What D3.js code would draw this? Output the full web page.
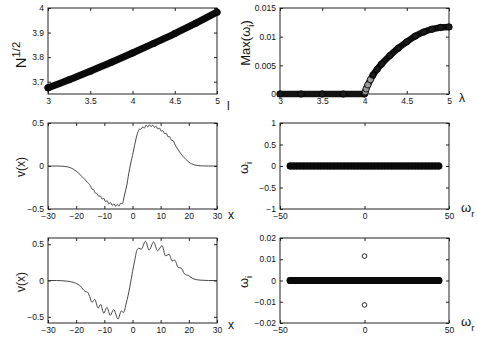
<!DOCTYPE html>
<html><head><meta charset="utf-8">
<script src="https://cdn.jsdelivr.net/npm/d3@7"></script>
<style>body{margin:0;background:#fff}svg{display:block}text{font-family:"Liberation Sans",Arial,Helvetica,sans-serif;fill:#111}</style>
</head><body><svg id="c" width="477" height="344"></svg>
<script>
// ---- data ----
const lambdaN = [3, 3.25, 3.5, 3.75, 4, 4.25, 4.5, 4.75, 5];
const sqrtN = [3.675, 3.708, 3.743, 3.779, 3.817, 3.856, 3.896, 3.938, 3.983];

const lambdaW = [3, 3.25, 3.5, 3.75, 4, 4.01, 4.02, 4.04, 4.07, 4.1, 4.15, 4.2, 4.3, 4.4, 4.5, 4.6, 4.7, 4.8, 4.9, 5];
const maxWi = [0, 0, 0, 0, 0, 0.0004, 0.0009, 0.0016, 0.0025, 0.0033, 0.0043, 0.0052, 0.0067, 0.0080, 0.0091, 0.0101, 0.0108, 0.0113, 0.0116, 0.0117];

const x1 = [-30,-27,-25,-24,-22,-20,-18,-16,-15,-14.4,-13.8,-13.2,-12.6,-12,-11.4,-10.8,-10.2,-9.6,-9,-8.4,-7.8,-7.2,-6.6,-6,-5.4,-4.8,-4.2,-3.6,-3,-2.5,-2,-1.5,-1,-0.5,0,0.5,1,1.5,2,2.5,3,3.6,4.2,4.8,5.4,6,6.6,7.2,7.8,8.4,9,9.6,10.2,10.8,11.4,12,12.6,13.2,13.8,14.4,15,16,17,18,19,20,21,22,23,25,27,30];
const v1 = [0,0,-0.002,-0.005,-0.02,-0.06,-0.12,-0.19,-0.228,-0.268,-0.275,-0.315,-0.32,-0.352,-0.348,-0.385,-0.375,-0.415,-0.403,-0.44,-0.425,-0.457,-0.44,-0.468,-0.445,-0.468,-0.432,-0.44,-0.36,-0.29,-0.22,-0.12,-0.03,0.05,0.12,0.2,0.28,0.35,0.4,0.43,0.425,0.455,0.44,0.475,0.455,0.48,0.458,0.475,0.45,0.462,0.43,0.44,0.405,0.41,0.375,0.38,0.34,0.34,0.3,0.295,0.255,0.2,0.15,0.11,0.075,0.045,0.025,0.013,0.006,0.001,0,0];

const x2 = [-30,-27,-25,-23,-21,-19.5,-18.5,-17.6,-16.8,-16,-15.2,-14.4,-13.4,-12.2,-11.3,-10.2,-9.1,-7.9,-6.7,-5.1,-4,-3.2,-2.2,-1,0,0.8,1.6,2.3,3.1,4.6,5.9,7.5,8.9,10.5,11.7,13,14.1,15,16.2,17.3,18.5,20,21.5,24,27,30];
const v2 = [0,0,-0.003,-0.01,-0.025,-0.05,-0.075,-0.12,-0.15,-0.16,-0.22,-0.30,-0.26,-0.38,-0.33,-0.45,-0.37,-0.48,-0.40,-0.53,-0.42,-0.44,-0.31,-0.1,0.12,0.28,0.42,0.445,0.43,0.54,0.42,0.53,0.41,0.48,0.34,0.36,0.27,0.28,0.18,0.17,0.09,0.065,0.025,0.005,0,0];

const omegaR = [-44,-42,-40,-38,-36,-34,-32,-30,-28,-26,-24,-22,-20,-18,-16,-14,-12,-10,-8,-6,-4,-2,0,2,4,6,8,10,12,14,16,18,20,22,24,26,28,30,32,34,36,38,40,42,44];
const unstableR = [0, 0];
const unstableI = [0.0115, -0.0115];

const lamTicks = [3, 3.5, 4, 4.5, 5];
const lamTickLabels = ["3", "3.5", "4", "4.5", "5"];
const nTicks = [3.7, 3.8, 3.9, 4];
const nTickLabels = ["3.7", "3.8", "3.9", "4"];
const wTicks = [0, 0.005, 0.01, 0.015];
const wTickLabels = ["0", "0.005", "0.01", "0.015"];
const xTicks = [-30, -20, -10, 0, 10, 20, 30];
const xTickLabels = ["\u221230", "\u221220", "\u221210", "0", "10", "20", "30"];
const vTicks = [-0.5, 0, 0.5];
const vTickLabels = ["\u22120.5", "0", "0.5"];
const wrTicks = [-50, 0, 50];
const wrTickLabels = ["\u221250", "0", "50"];
const wi1Ticks = [-1, -0.5, 0, 0.5, 1];
const wi1TickLabels = ["\u22121", "\u22120.5", "0", "0.5", "1"];
const wi2Ticks = [-0.02, -0.01, 0, 0.01, 0.02];
const wi2TickLabels = ["\u22120.02", "\u22120.01", "0", "0.01", "0.02"];

// ---- drawing ----
const svg = d3.select("#c");
const TF = 8.5;

function panel(c) {
  const x = d3.scaleLinear().domain(c.xd).range([c.l, c.r]);
  const y = d3.scaleLinear().domain(c.yd).range([c.b, c.t]);
  const g = svg.append("g");
  const lab = (vals, labs) => d => labs[vals.indexOf(d)];
  const ax = (sel) => { sel.select(".domain").remove(); sel.selectAll("line").attr("stroke", "#222"); sel.selectAll("text").attr("font-size", TF).attr("font-family", "Liberation Sans, Arial, sans-serif").attr("fill", "#111"); };
  g.append("g").attr("transform", `translate(0,${c.b})`)
    .call(d3.axisBottom(x).tickValues(c.xt).tickFormat(lab(c.xt, c.xl)).tickSizeInner(-3).tickSizeOuter(0).tickPadding(4)).call(ax);
  g.append("g").attr("transform", `translate(0,${c.t})`)
    .call(d3.axisTop(x).tickValues(c.xt).tickFormat("").tickSizeInner(-3).tickSizeOuter(0)).call(ax);
  g.append("g").attr("transform", `translate(${c.l},0)`)
    .call(d3.axisLeft(y).tickValues(c.yt).tickFormat(lab(c.yt, c.yl)).tickSizeInner(-3).tickSizeOuter(0).tickPadding(4)).call(ax);
  g.append("g").attr("transform", `translate(${c.r},0)`)
    .call(d3.axisRight(y).tickValues(c.yt).tickFormat("").tickSizeInner(-3).tickSizeOuter(0)).call(ax);
  g.append("rect").attr("x", c.l).attr("y", c.t).attr("width", c.r - c.l).attr("height", c.b - c.t)
    .attr("fill", "none").attr("stroke", "#222").attr("stroke-width", 1);
  return { g, x, y };
}

function ylabel(px, py, main, opts) {
  const s = opts.size;
  const t = svg.append("text").attr("transform", `translate(${px},${py}) rotate(-90)`)
    .attr("text-anchor", "middle").attr("font-size", s);
  t.append("tspan").text(main);
  if (opts.sup) t.append("tspan").attr("dy", -s * 0.4).attr("font-size", s * 0.75).text(opts.sup);
  if (opts.sub) t.append("tspan").attr("dy", s * 0.3).attr("font-size", s * 0.72).text(opts.sub);
  if (opts.after) t.append("tspan").attr("dy", -s * 0.3).text(opts.after);
}
function xlabel(px, py, main, opts) {
  const s = opts.size;
  const t = svg.append("text").attr("x", px).attr("y", py).attr("font-size", s);
  t.append("tspan").text(main);
  if (opts.sub) t.append("tspan").attr("dy", s * 0.35).attr("font-size", s * 0.72).text(opts.sub);
}

const L = [48, 217], R = [280, 449];
const rows = [[8, 94], [123, 209], [238, 323]];

// Panel 1
{
  const p = panel({ l: L[0], r: L[1], t: rows[0][0], b: rows[0][1], xd: [3, 5], yd: [3.65, 4],
    xt: lamTicks, xl: lamTickLabels, yt: nTicks, yl: nTickLabels });
  const pts = lambdaN.map((d, i) => [p.x(d), p.y(sqrtN[i])]);
  p.g.append("path").attr("d", d3.line().curve(d3.curveMonotoneX)(pts))
    .attr("fill", "none").attr("stroke", "#0a0a0a").attr("stroke-width", 7).attr("stroke-linecap", "round");
  p.g.selectAll("circle").data(pts).join("circle").attr("cx", d => d[0]).attr("cy", d => d[1])
    .attr("r", 3.5).attr("fill", "#0a0a0a");
  ylabel(26, 55, "N", { size: 15, sup: "1/2" });
  xlabel(227, 110, "l", { size: 12 });
}
// Panel 2
{
  const p = panel({ l: R[0], r: R[1], t: rows[0][0], b: rows[0][1], xd: [3, 5], yd: [0, 0.015],
    xt: lamTicks, xl: lamTickLabels, yt: wTicks, yl: wTickLabels });
  const pts = lambdaW.map((d, i) => [p.x(d), p.y(maxWi[i])]);
  p.g.append("path").attr("d", d3.line().curve(d3.curveMonotoneX)(pts))
    .attr("fill", "none").attr("stroke", "#111").attr("stroke-width", 6.5).attr("stroke-linecap", "round");
  p.g.selectAll("circle").data(pts).join("circle").attr("cx", d => d[0]).attr("cy", d => d[1])
    .attr("r", 3.2).attr("fill", (d, i) => maxWi[i] > 0 && maxWi[i] < 0.003 ? "#999" : "#1a1a1a").attr("stroke", "#000").attr("stroke-width", 0.8);
  ylabel(250, 43, "Max(\u03c9", { size: 13, sub: "i", after: ")" });
  xlabel(459, 102, "\u03bb", { size: 12 });
}
// Panel 3
{
  const p = panel({ l: L[0], r: L[1], t: rows[1][0], b: rows[1][1], xd: [-30, 30], yd: [-0.5, 0.5],
    xt: xTicks, xl: xTickLabels, yt: vTicks, yl: vTickLabels });
  const pts = x1.map((d, i) => [p.x(d), p.y(v1[i])]);
  p.g.append("path").attr("d", d3.line().curve(d3.curveMonotoneX)(pts))
    .attr("fill", "none").attr("stroke", "#333").attr("stroke-width", 0.9);
  ylabel(25, 167, "v(x)", { size: 12 });
  xlabel(228, 219, "x", { size: 12 });
}
// bar of stable eigenvalues
function bar(p, yv) {
  const xs = omegaR.map(d => p.x(d));
  p.g.append("line").attr("x1", d3.min(xs)).attr("x2", d3.max(xs)).attr("y1", p.y(yv)).attr("y2", p.y(yv))
    .attr("stroke", "#0a0a0a").attr("stroke-width", 7).attr("stroke-linecap", "round");
  p.g.selectAll("circle.s").data(omegaR).join("circle").attr("class", "s").attr("cx", d => p.x(d)).attr("cy", p.y(yv))
    .attr("r", 3.4).attr("fill", "#0a0a0a");
}
// Panel 4
{
  const p = panel({ l: R[0], r: R[1], t: rows[1][0], b: rows[1][1], xd: [-50, 50], yd: [-1, 1],
    xt: wrTicks, xl: wrTickLabels, yt: wi1Ticks, yl: wi1TickLabels });
  bar(p, 0);
  ylabel(248, 168, "\u03c9", { size: 13, sub: "i" });
  xlabel(461, 212, "\u03c9", { size: 13, sub: "r" });
}
// Panel 5
{
  const p = panel({ l: L[0], r: L[1], t: rows[2][0], b: rows[2][1], xd: [-30, 30], yd: [-0.585, 0.585],
    xt: xTicks, xl: xTickLabels, yt: vTicks, yl: vTickLabels });
  const pts = x2.map((d, i) => [p.x(d), p.y(v2[i])]);
  p.g.append("path").attr("d", d3.line().curve(d3.curveMonotoneX)(pts))
    .attr("fill", "none").attr("stroke", "#333").attr("stroke-width", 0.9);
  ylabel(25, 282, "v(x)", { size: 12 });
  xlabel(228, 329, "x", { size: 12 });
}
// Panel 6
{
  const p = panel({ l: R[0], r: R[1], t: rows[2][0], b: rows[2][1], xd: [-50, 50], yd: [-0.02, 0.02],
    xt: wrTicks, xl: wrTickLabels, yt: wi2Ticks, yl: wi2TickLabels });
  bar(p, 0);
  p.g.selectAll("circle.u").data(unstableR).join("circle").attr("class", "u").attr("cx", d => p.x(d))
    .attr("cy", (d, i) => p.y(unstableI[i])).attr("r", 2.3).attr("fill", "none").attr("stroke", "#111").attr("stroke-width", 0.9);
  ylabel(248, 282, "\u03c9", { size: 13, sub: "i" });
  xlabel(461, 326, "\u03c9", { size: 13, sub: "r" });
}
</script></body></html>
